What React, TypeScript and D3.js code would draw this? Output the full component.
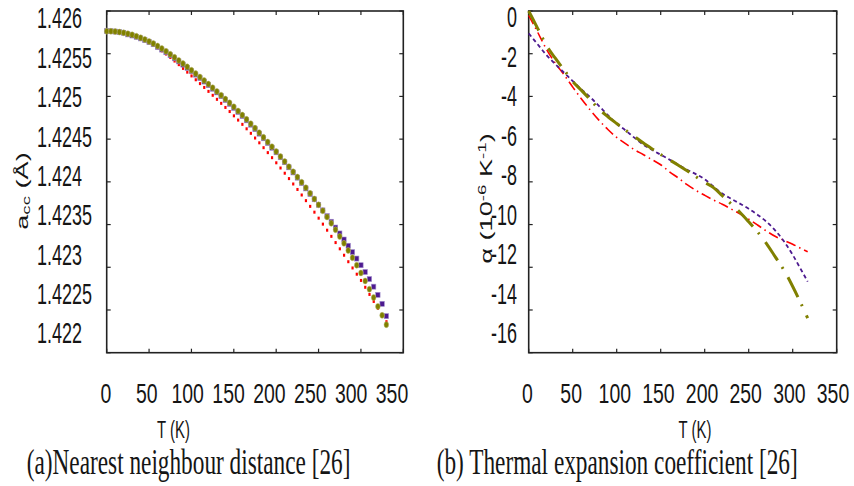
import React from 'react';
import * as d3 from 'd3';

const W = 854;
const H = 486;

// (a) nearest neighbour distance a_cc (Å) against T (K)
const tempsA = [
  0, 5, 10, 15, 20, 25, 30, 35, 40, 45, 50, 55, 60, 65, 70, 75, 80, 85, 90, 95,
  100, 105, 110, 115, 120, 125, 130, 135, 140, 145, 150, 155, 160, 165, 170, 175,
  180, 185, 190, 195, 200, 205, 210, 215, 220, 225, 230, 235, 240, 245, 250, 255,
  260, 265, 270, 275, 280, 285, 290, 295, 300, 305, 310, 315, 320, 325, 330
];
const accOlive = [
  1.425764, 1.425763, 1.425759, 1.425753, 1.425745, 1.425734, 1.425721, 1.425705, 1.425687, 1.425667,
  1.425644, 1.425619, 1.425591, 1.425561, 1.425529, 1.425494, 1.425458, 1.425422, 1.425384, 1.425346,
  1.425307, 1.425267, 1.425227, 1.425186, 1.425144, 1.425102, 1.425059, 1.425015, 1.42497, 1.424925,
  1.424878, 1.42483, 1.424782, 1.424732, 1.424681, 1.424629, 1.424576, 1.424522, 1.424467, 1.424411,
  1.424354, 1.424296, 1.424238, 1.424178, 1.424118, 1.424057, 1.423995, 1.423931, 1.423866, 1.4238,
  1.423731, 1.423661, 1.423589, 1.423515, 1.423439, 1.423361, 1.42328, 1.423197, 1.423112, 1.423024,
  1.422934, 1.42284, 1.422744, 1.422645, 1.422542, 1.422437, 1.422328
];
const accPurple = [
  1.425764, 1.425763, 1.425759, 1.425753, 1.425745, 1.425726, 1.425713, 1.425697, 1.425679, 1.425659,
  1.425636, 1.425611, 1.425579, 1.425549, 1.425517, 1.425482, 1.425446, 1.42541, 1.425372, 1.425334,
  1.425295, 1.425255, 1.425215, 1.425174, 1.425132, 1.42509, 1.425047, 1.425003, 1.424958, 1.424913,
  1.424866, 1.424818, 1.42477, 1.42472, 1.424669, 1.424617, 1.424564, 1.42451, 1.424455, 1.424399,
  1.424346, 1.424288, 1.42423, 1.42417, 1.42411, 1.424049, 1.423987, 1.423923, 1.423858, 1.423796,
  1.423731, 1.423666, 1.423599, 1.423533, 1.423465, 1.423396, 1.423325, 1.423252, 1.423177, 1.423102,
  1.423024, 1.422945, 1.422862, 1.422773, 1.422677, 1.422572, 1.422428
];
const accRed = [
  1.425764, 1.425763, 1.425759, 1.425753, 1.425745, 1.425734, 1.425721, 1.425702, 1.425681, 1.425657,
  1.42563, 1.425601, 1.425568, 1.425533, 1.425496, 1.425456, 1.425414, 1.425372, 1.425328, 1.425284,
  1.42524, 1.425195, 1.42515, 1.425105, 1.425059, 1.425013, 1.424966, 1.424919, 1.424871, 1.424823,
  1.424773, 1.424723, 1.424673, 1.424621, 1.424568, 1.424513, 1.424457, 1.4244, 1.424342, 1.424283,
  1.424223, 1.424162, 1.424101, 1.424038, 1.423975, 1.423911, 1.423846, 1.42378, 1.423713, 1.423645,
  1.423575, 1.423505, 1.423434, 1.423362, 1.423289, 1.423216, 1.423141, 1.423065, 1.422992, 1.422919,
  1.422846, 1.422766, 1.422682, 1.4226, 1.42252, 1.422442, 1.422363
];

// (b) thermal expansion coefficient alpha (1e-6 / K) against T (K)
const tempsB = [
  0, 10, 20, 30, 40, 50, 60, 70, 80, 90, 100, 110, 120, 130, 140, 150, 160,
  170, 180, 190, 200, 210, 220, 230, 240, 250, 260, 270, 280, 290, 300, 310, 317
];
const alphaOlive = [
  0, -0.8, -1.6, -2.2, -2.75, -3.3, -3.72, -4.15, -4.6, -4.95, -5.27, -5.58, -5.87, -6.17, -6.45, -6.72, -6.97,
  -7.22, -7.48, -7.76, -8.02, -8.27, -8.65, -9.03, -9.42, -9.87, -10.34, -10.88, -11.5, -12.13, -12.9, -13.75, -14.38
];
const alphaPurple = [
  -1.05, -1.55, -2.05, -2.48, -2.88, -3.28, -3.67, -4.04, -4.45, -4.88, -5.28, -5.59, -5.93, -6.25, -6.5, -6.73, -6.96,
  -7.2, -7.43, -7.64, -7.88, -8.22, -8.55, -8.79, -9.02, -9.26, -9.54, -9.86, -10.27, -10.78, -11.42, -12.15, -12.67
];
const alphaRed = [
  -0.2, -0.98, -1.78, -2.43, -2.98, -3.56, -4.12, -4.64, -5.12, -5.55, -5.92, -6.21, -6.49, -6.72, -6.96, -7.2, -7.53,
  -7.82, -8.13, -8.4, -8.63, -8.85, -9.05, -9.27, -9.5, -9.75, -10.02, -10.3, -10.55, -10.74, -10.92, -11.13, -11.27
];

const tempTicks = [0, 50, 100, 150, 200, 250, 300, 350];
const accTicks = [1.422, 1.4225, 1.423, 1.4235, 1.424, 1.4245, 1.425, 1.4255, 1.426];
const alphaTicks = [-16, -14, -12, -10, -8, -6, -4, -2, 0];

const RED = '#ff0000';
const PURPLE = '#4d1a8f';
const OLIVE = '#808000';
const INK = '#151515';

const SANS = 'Liberation Sans, Arial, sans-serif';
const SERIF = 'Liberation Serif, Times New Roman, serif';

const TOP = 11;
const BOTTOM = 352.7;

// gnuplot-like text that was squeezed sideways in the original bitmap
const Squeezed = ({ x, y, size, sx, anchor = 'start', family = SANS, children }: any) => (
  <g transform={`translate(${x},${y}) scale(${sx},1)`}>
    <text fontSize={size} fontFamily={family} textAnchor={anchor} fill={INK}>
      {children}
    </text>
  </g>
);

const Frame = ({ xs, ys, yTicks }: any) => {
  const [left, right] = xs.range();
  const t = 4;
  return (
    <g stroke="#222" fill="none">
      {tempTicks.map(d => (
        <g key={'x' + d} strokeWidth={1.2}>
          <line x1={xs(d)} x2={xs(d)} y1={TOP} y2={TOP + t} />
          <line x1={xs(d)} x2={xs(d)} y1={BOTTOM} y2={BOTTOM - t} />
        </g>
      ))}
      {yTicks.map((d: number) => (
        <g key={'y' + d} strokeWidth={1.2}>
          <line x1={left} x2={left + t} y1={ys(d)} y2={ys(d)} />
          <line x1={right} x2={right - t} y1={ys(d)} y2={ys(d)} />
        </g>
      ))}
      <rect x={left} y={TOP} width={right - left} height={BOTTOM - TOP} strokeWidth={1.6} />
    </g>
  );
};

const PanelA = () => {
  const xs = d3.scaleLinear().domain([0, 350]).range([106.7, 403.3]);
  const ys = d3.scaleLinear().domain([1.422, 1.426]).range([BOTTOM, TOP]);
  // tick labels sit on their own, slightly compressed, grid in the original
  const xLab = d3.scaleLinear().domain([0, 350]).range([106, 392]);
  const yLab = d3.scaleLinear().domain([1.422, 1.426]).range([333, 18]);

  return (
    <g>
      <Frame xs={xs} ys={ys} yTicks={accTicks} />
      {accRed.map((v, i) => (
        <rect key={'r' + i} x={xs(tempsA[i]) - 1} y={ys(v) - 1.5} width={2.2} height={3} fill={RED} />
      ))}
      {accPurple.map((v, i) => (
        <rect
          key={'p' + i}
          x={xs(tempsA[i]) - 2.2}
          y={ys(v) - 2.5}
          width={4.4}
          height={5}
          fill={PURPLE}
          stroke="#a08ccc"
          strokeWidth={0.6}
        />
      ))}
      {accOlive.map((v, i) => (
        <ellipse
          key={'o' + i}
          cx={xs(tempsA[i])}
          cy={ys(v)}
          rx={2.3}
          ry={3}
          fill={OLIVE}
          stroke="#b8b870"
          strokeWidth={0.5}
        />
      ))}

      {accTicks.map(d => (
        <Squeezed key={'yl' + d} x={37} y={yLab(d) + 10.4} size={29} sx={0.62}>
          {String(+d.toFixed(4))}
        </Squeezed>
      ))}
      {tempTicks.map(d => (
        <Squeezed key={'xl' + d} x={xLab(d)} y={403.4} size={27} sx={0.72} anchor="middle">
          {String(d)}
        </Squeezed>
      ))}
      <Squeezed x={173.5} y={437.5} size={24} sx={0.62} anchor="middle">
        T (K)
      </Squeezed>

      <g transform="translate(28,191) rotate(-90) scale(1.7,1)">
        <text fontSize={16} fontFamily={SANS} textAnchor="middle" fill={INK}>
          a
          <tspan fontSize={11} dy={2}>cc</tspan>
          <tspan dy={-2}> (Å)</tspan>
        </text>
      </g>

      <Squeezed x={26.7} y={473.7} size={35} sx={0.665} family={SERIF}>
        (a)Nearest neighbour distance [26]
      </Squeezed>
    </g>
  );
};

const PanelB = () => {
  const xs = d3.scaleLinear().domain([0, 350]).range([528.7, 836.7]);
  const ys = d3.scaleLinear().domain([-16, 0]).range([BOTTOM, TOP]);
  const xLab = d3.scaleLinear().domain([0, 350]).range([527.5, 833]);
  const yLab = d3.scaleLinear().domain([-16, 0]).range([333, 17]);

  const line = d3
    .line<number>()
    .x((d, i) => xs(tempsB[i]))
    .y(d => ys(d))
    .curve(d3.curveMonotoneX);

  return (
    <g>
      <Frame xs={xs} ys={ys} yTicks={alphaTicks} />
      <path d={line(alphaRed) || ''} fill="none" stroke={RED} strokeWidth={1.6} strokeDasharray="10 4 1.5 4" />
      <path d={line(alphaPurple) || ''} fill="none" stroke={PURPLE} strokeWidth={1.8} strokeDasharray="4 3" />
      <path d={line(alphaOlive) || ''} fill="none" stroke={OLIVE} strokeWidth={3} strokeDasharray="22 8 2 10" />

      {alphaTicks.map(d => (
        <Squeezed key={'yl' + d} x={517} y={yLab(d) + 10.4} size={29} sx={0.62} anchor="end">
          {String(d)}
        </Squeezed>
      ))}
      {tempTicks.map(d => (
        <Squeezed key={'xl' + d} x={xLab(d)} y={403.4} size={27} sx={0.72} anchor="middle">
          {String(d)}
        </Squeezed>
      ))}
      <Squeezed x={695} y={437.5} size={24} sx={0.62} anchor="middle">
        T (K)
      </Squeezed>

      <g transform="translate(492,198.5) rotate(-90) scale(1.7,1)">
        <text fontSize={16} fontFamily={SANS} textAnchor="middle" fill={INK}>
          α (10
          <tspan fontSize={11} dy={-6}>-6</tspan>
          <tspan dy={6}> K</tspan>
          <tspan fontSize={11} dy={-6}>-1</tspan>
          <tspan dy={6}>)</tspan>
        </text>
      </g>

      <Squeezed x={436.7} y={473.7} size={35} sx={0.665} family={SERIF}>
        (b) Thermal expansion coefficient [26]
      </Squeezed>
    </g>
  );
};

export default function App() {
  return (
    <svg
      width={W}
      height={H}
      viewBox={`0 0 ${W} ${H}`}
      style={{ position: 'absolute', left: 0, top: 0, background: '#fff' }}
    >
      <rect width={W} height={H} fill="#fff" />
      <PanelA />
      <PanelB />
    </svg>
  );
}
